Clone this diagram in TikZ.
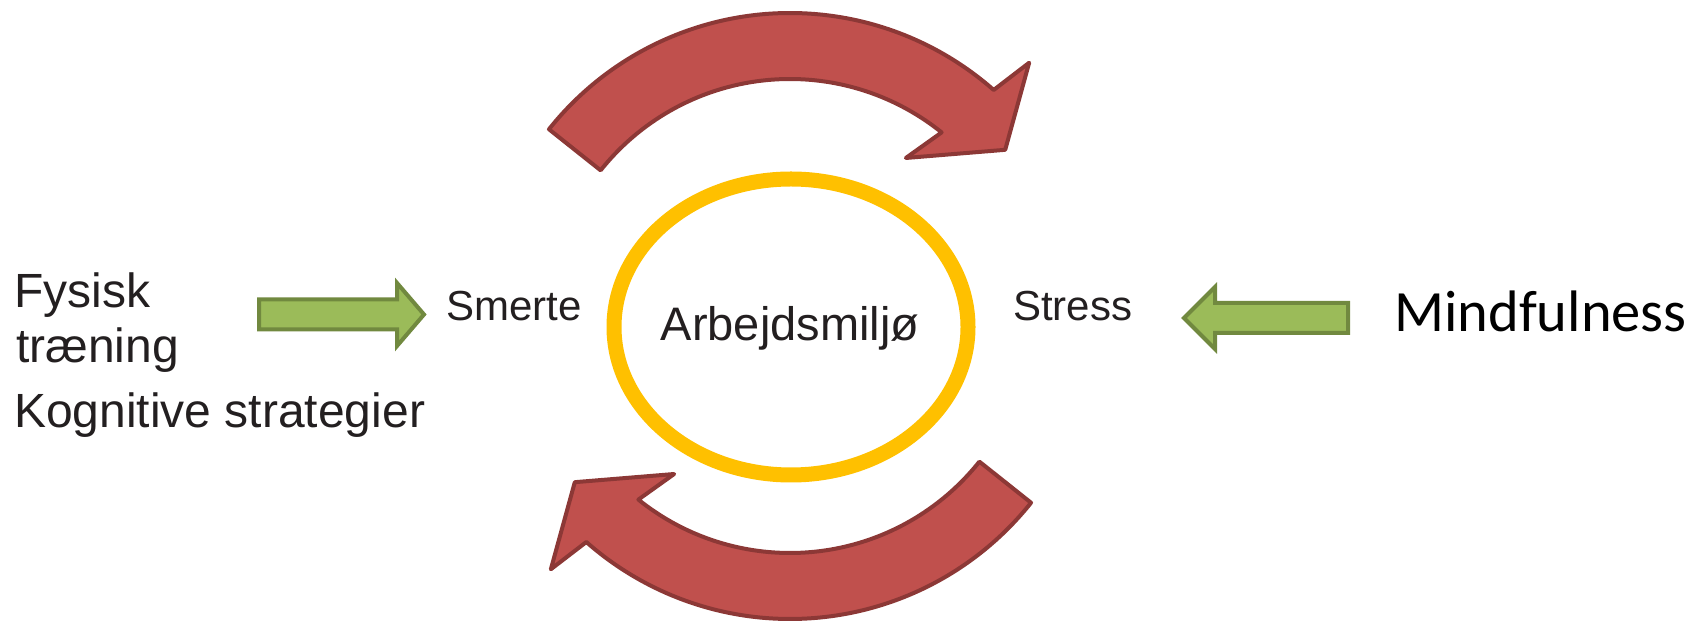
\documentclass[tikz,border=0pt]{standalone}
\usepackage{fontspec}
\usetikzlibrary{shapes.geometric}
\setmainfont{Liberation Sans}
\newfontfamily\calibri{Carlito}
\definecolor{bowred}{HTML}{C0504D}
\definecolor{bowedge}{HTML}{8C3836}
\definecolor{leafgreen}{HTML}{9BBB59}
\definecolor{leafedge}{HTML}{71893F}
\definecolor{ringyellow}{HTML}{FFC000}
\definecolor{ink}{HTML}{231F20}

\begin{document}
\begin{tikzpicture}[x=1pt, y=1pt,
    bow/.style={fill=bowred, draw=bowedge, line width=4pt, line join=round},
    push/.style={fill=leafgreen, draw=leafedge, line width=4pt},
    txt/.style={inner sep=0pt, anchor=base west, text=ink},
    big/.style={font=\fontsize{48}{57}\selectfont},
    small/.style={font=\fontsize{42}{50}\selectfont} ]
        \useasboundingbox (0,0) rectangle (1707,623);
        \foreach \r/\cy in {0/302, 180/312}
            \draw[bow, shift={(790,\cy)}, rotate=\r] (141.5:308) arc[start angle=141.5, end angle=48.6, radius=308]
                -- (47.2:352) -- (38.5:275) -- (54.6:200) -- (51.2:242)
                arc[start angle=51.2, end angle=141.5, radius=242] -- cycle;
        \node[draw=ringyellow, line width=15pt, ellipse, minimum width=354pt, minimum height=296pt, inner sep=0pt] (ring) at (791,296) {};
        \node[txt, anchor=base, font=\fontsize{47}{56}\selectfont] (miljo) at (790,282) {Arbejdsmiljø};
        \node[txt, big] (fysisk) at (14,315) {Fysisk};
        \node[txt, big] (traening) at (16,260) {træning};
        \node[txt, big] (kognitiv) at (14,195) {Kognitive strategier};
        \node[txt, small] (smerte) at (446,302) {Smerte};
        \node[txt, small] (stress) at (1013,302) {Stress};
        \node[txt, text=black, font=\calibri\fontsize{58.5}{70}\selectfont] (mind) at (1394,291) {Mindfulness};
        \draw[push] (259,323.5) -- (397,323.5) -- (397,340) -- (424,308.5) -- (397,277) -- (397,293.5) -- (259,293.5) -- cycle;
        \draw[push] (1348,320) -- (1215,320) -- (1215,336) -- (1184,305) -- (1215,274) -- (1215,290) -- (1348,290) -- cycle;
    \end{tikzpicture}
\end{document}
